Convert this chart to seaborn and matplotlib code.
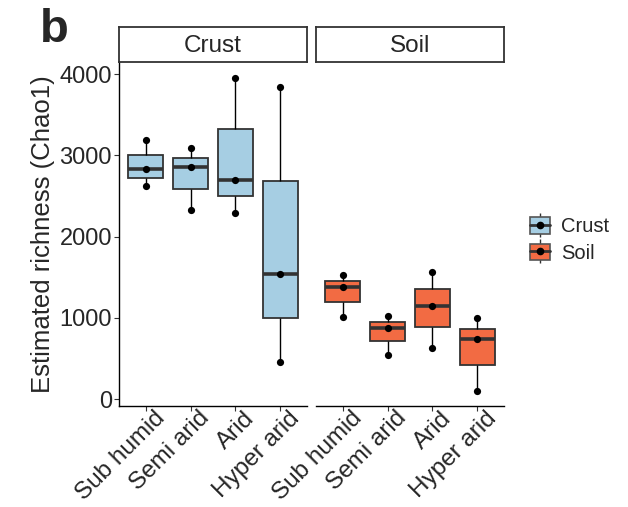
import matplotlib
matplotlib.use("Agg")
import matplotlib.pyplot as plt
import matplotlib.transforms as mtransforms
import seaborn as sns
import pandas as pd
import numpy as np
from matplotlib.patches import Patch
from matplotlib.lines import Line2D
from matplotlib.legend_handler import HandlerTuple

# ---- data ----
habitats = ["Crust", "Soil"]
aridity = ["Sub humid", "Semi arid", "Arid", "Hyper arid"]
crust_sub_humid = [2620, 2830, 3185]
crust_semi_arid = [2326, 2855, 3085]
crust_arid = [2293, 2700, 3955]
crust_hyper_arid = [451, 1538, 3840]
soil_sub_humid = [1013, 1375, 1522]
soil_semi_arid = [542, 874, 1026]
soil_arid = [624, 1149, 1563]
soil_hyper_arid = [98, 735, 997]
colors = {"Crust": "#A6CEE3", "Soil": "#F26B43"}

values = {
    "Crust": [crust_sub_humid, crust_semi_arid, crust_arid, crust_hyper_arid],
    "Soil": [soil_sub_humid, soil_semi_arid, soil_arid, soil_hyper_arid],
}
rows = []
for h in habitats:
    for a, vals in zip(aridity, values[h]):
        for v in vals:
            rows.append({"habitat": h, "aridity": a, "richness": v})
df = pd.DataFrame(rows)

sns.set_style("white")
plt.rcParams["font.family"] = ["Liberation Sans", "DejaVu Sans"]

W, H = 628, 507
fig = plt.figure(figsize=(W / 100, H / 100), dpi=100)

def fx(px):
    return px / W

def fy(py):
    return 1 - py / H

left, right1, left2, right2 = 119, 307, 316, 504
top, bottom = 62, 406
strip_top = 27

ylim = (-86, 4148)
label_shift = mtransforms.ScaledTranslation(0.08, 0.065, fig.dpi_scale_trans)
for i, h in enumerate(habitats):
    x0 = left if i == 0 else left2
    x1 = right1 if i == 0 else right2
    ax = fig.add_axes([fx(x0), fy(bottom), fx(x1 - x0), fy(top) - fy(bottom)])
    sub = df[df.habitat == h]
    sns.boxplot(data=sub, x="aridity", y="richness", order=aridity,
                hue="habitat", palette=colors, legend=False, ax=ax,
                saturation=1, width=0.78, linewidth=1.3, linecolor="#333333",
                showcaps=False, showfliers=False,
                whiskerprops=dict(color="black", linewidth=1.0),
                medianprops=dict(color="#333333", linewidth=2.6))
    sns.stripplot(data=sub, x="aridity", y="richness", order=aridity,
                  color="black", jitter=False, size=5.2, ax=ax, zorder=5)
    ax.set_xlim(-0.6, 3.6)
    ax.set_ylim(*ylim)
    ax.set_xlabel("")
    ax.set_ylabel("")
    for s in ["top", "right"]:
        ax.spines[s].set_visible(False)
    ax.spines["bottom"].set_color("black")
    ax.spines["bottom"].set_linewidth(1.0)
    ax.tick_params(axis="x", length=3.5, width=0.8, color="#333333",
                   labelsize=17.5, pad=2, bottom=True)
    for lab in ax.get_xticklabels():
        lab.set_rotation(45)
        lab.set_ha("right")
        lab.set_va("top")
        lab.set_rotation_mode("anchor")
        lab.set_transform(lab.get_transform() + label_shift)
    if i == 0:
        ax.spines["left"].set_color("black")
        ax.spines["left"].set_linewidth(1.0)
        ax.set_yticks([0, 1000, 2000, 3000, 4000])
        ax.tick_params(axis="y", length=3.5, width=0.8, color="#333333",
                       labelsize=17, pad=1.5, left=True)
        ax.set_ylabel("Estimated richness (Chao1)", fontsize=18.5, labelpad=3)
    else:
        ax.spines["left"].set_visible(False)
        ax.set_yticks([])
    # strip
    sax = fig.add_axes([fx(x0), fy(top), fx(x1 - x0), fy(strip_top) - fy(top)])
    sax.set_xticks([])
    sax.set_yticks([])
    for s in sax.spines.values():
        s.set_color("#333333")
        s.set_linewidth(1.3)
    sax.text(0.5, 0.47, h, ha="center", va="center", fontsize=17.5,
             transform=sax.transAxes)

# legend
handles = []
for h in habitats:
    whisk = Line2D([], [], color="#333333", marker="|", markersize=17,
                   linestyle="none", markeredgewidth=1.0)
    box = Patch(facecolor=colors[h], edgecolor="#555555", linewidth=1.2)
    med = Line2D([], [], color="#333333", linewidth=2.0)
    dot = Line2D([], [], color="black", marker="o", markersize=4.5,
                 linestyle="none")
    handles.append((whisk, box, med, dot))
fig.legend(handles, habitats, handler_map={tuple: HandlerTuple(ndivide=1, pad=0)},
           loc="center left", bbox_to_anchor=(fx(522), fy(240)),
           frameon=False, fontsize=14.5, handlelength=1.0, handleheight=0.85,
           handletextpad=0.55, labelspacing=0.35, borderaxespad=0)

fig.text(fx(40), fy(42), "b", fontsize=34, fontweight="bold", ha="left",
         va="baseline")

fig.savefig("out.png", dpi=100)
